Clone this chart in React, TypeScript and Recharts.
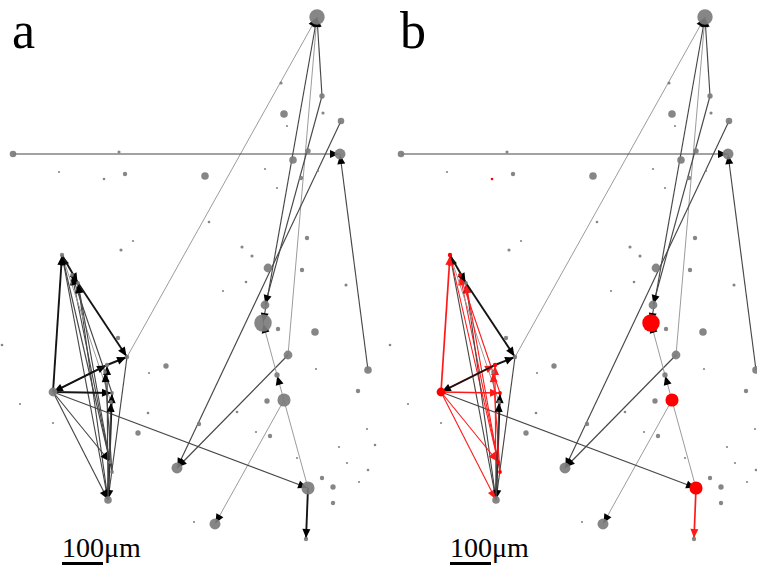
import React from "react";
import {
  ScatterChart,
  Scatter,
  XAxis,
  YAxis,
  ZAxis,
  ReferenceLine,
  Cell,
} from "recharts";

// node positions in the imaging field (px of the field), w = relative soma weight
const nodes = [
  { id: "n1", x: 317, y: 17, w: 49 },
  { id: "n2", x: 281, y: 83, w: 2 },
  { id: "n3", x: 322, y: 96, w: 6 },
  { id: "n4", x: 284, y: 114, w: 12 },
  { id: "n5", x: 323, y: 113, w: 2 },
  { id: "n6", x: 341, y: 121, w: 9 },
  { id: "n7", x: 13, y: 154, w: 9 },
  { id: "n8", x: 119, y: 152, w: 2 },
  { id: "n9", x: 340, y: 154, w: 25 },
  { id: "n10", x: 308, y: 151, w: 6 },
  { id: "n11", x: 293, y: 160, w: 12 },
  { id: "n12", x: 125, y: 174, w: 4 },
  { id: "n13", x: 104, y: 179, w: 1.5 },
  { id: "n14", x: 205, y: 176, w: 12 },
  { id: "n15", x: 59, y: 172, w: 1 },
  { id: "n16", x: 301, y: 178, w: 4 },
  { id: "n17", x: 287, y: 126, w: 1 },
  { id: "n18", x: 318, y: 171, w: 1 },
  { id: "n19", x: 265, y: 169, w: 1 },
  { id: "n20", x: 277, y: 188, w: 1 },
  { id: "n21", x: 209, y: 222, w: 1.5 },
  { id: "n22", x: 121, y: 250, w: 2 },
  { id: "n23", x: 133, y: 241, w: 1 },
  { id: "n24", x: 242, y: 247, w: 2 },
  { id: "n25", x: 252, y: 256, w: 2 },
  { id: "n26", x: 246, y: 282, w: 1.5 },
  { id: "n27", x: 223, y: 291, w: 1 },
  { id: "n28", x: 307, y: 238, w: 4 },
  { id: "n29", x: 302, y: 270, w: 4 },
  { id: "n30", x: 346, y: 285, w: 2 },
  { id: "n31", x: 268, y: 268, w: 16 },
  { id: "n32", x: 265, y: 305, w: 16 },
  { id: "n33", x: 263, y: 323, w: 64 },
  { id: "n34", x: 278, y: 329, w: 4 },
  { id: "n35", x: 315, y: 332, w: 12 },
  { id: "n36", x: 288, y: 355, w: 16 },
  { id: "n37", x: 368, y: 370, w: 12 },
  { id: "n38", x: 316, y: 369, w: 1 },
  { id: "n39", x: 277, y: 375, w: 6 },
  { id: "n40", x: 166, y: 366, w: 6 },
  { id: "n41", x: 118, y: 338, w: 4 },
  { id: "n42", x: 149, y: 373, w: 1 },
  { id: "n43", x: 284, y: 400, w: 36 },
  { id: "n44", x: 267, y: 401, w: 6 },
  { id: "n45", x: 358, y: 391, w: 4 },
  { id: "n46", x: 199, y: 424, w: 4 },
  { id: "n47", x: 237, y: 412, w: 1.5 },
  { id: "n48", x: 270, y: 436, w: 4 },
  { id: "n49", x: 256, y: 432, w: 1 },
  { id: "n50", x: 297, y: 458, w: 1 },
  { id: "n51", x: 177, y: 468, w: 25 },
  { id: "n52", x: 215, y: 524, w: 25 },
  { id: "n53", x: 308, y: 488, w: 36 },
  { id: "n54", x: 306, y: 539, w: 4 },
  { id: "n55", x: 322, y: 478, w: 4 },
  { id: "n56", x: 333, y: 487, w: 6 },
  { id: "n57", x: 333, y: 503, w: 4 },
  { id: "n58", x: 339, y: 447, w: 1 },
  { id: "n59", x: 347, y: 463, w: 1 },
  { id: "n60", x: 368, y: 470, w: 1.5 },
  { id: "n61", x: 359, y: 482, w: 1 },
  { id: "n62", x: 367, y: 429, w: 1 },
  { id: "n63", x: 375, y: 445, w: 1.5 },
  { id: "n64", x: 194, y: 522, w: 1 },
  { id: "n65", x: 20, y: 404, w: 1 },
  { id: "n66", x: 53, y: 423, w: 1 },
  { id: "n67", x: 148, y: 413, w: 1.5 },
  { id: "n68", x: 138, y: 433, w: 6 },
  { id: "n69", x: 2, y: 345, w: 1.5 },
  // tight cluster on the left
  { id: "T", x: 62, y: 255, w: 4 },
  { id: "c1", x: 72, y: 275, w: 3 },
  { id: "c2", x: 78, y: 283, w: 3 },
  { id: "R", x: 127, y: 357, w: 4 },
  { id: "M1", x: 107, y: 365, w: 4 },
  { id: "M2", x: 105, y: 372, w: 3 },
  { id: "L", x: 53, y: 392, w: 16 },
  { id: "M3", x: 112, y: 393, w: 3 },
  { id: "M4", x: 111, y: 402, w: 3 },
  { id: "c5", x: 110, y: 462, w: 3 },
  { id: "c6", x: 112, y: 472, w: 3 },
  { id: "B", x: 108, y: 500, w: 12 },
];

// directed connections: [from, to, strength 1..3]
const edges: [string, string, number][] = [
  ["R", "n1", 1],
  ["n3", "n1", 2],
  ["n1", "n33", 2],
  ["n36", "n1", 1],
  ["n3", "n32", 2],
  ["n6", "n51", 2],
  ["n36", "n51", 2],
  ["n7", "n9", 2],
  ["n37", "n9", 2],
  ["n39", "n33", 1],
  ["n53", "n39", 1],
  ["n43", "n52", 1],
  ["L", "n53", 2],
  ["n53", "n54", 3],
  ["B", "T", 2],
  ["c5", "T", 2],
  ["c6", "c1", 2],
  ["B", "c2", 2],
  ["M4", "T", 1],
  ["M3", "c1", 2],
  ["c5", "c2", 2],
  ["L", "T", 3],
  ["T", "c2", 3],
  ["c2", "R", 3],
  ["L", "M1", 3],
  ["M1", "L", 3],
  ["M1", "R", 3],
  ["L", "M3", 3],
  ["L", "B", 2],
  ["L", "c5", 2],
  ["R", "B", 2],
  ["B", "M1", 2],
  ["B", "M3", 3],
  ["c6", "M2", 2],
  ["B", "M4", 2],
];

// highlighted in panel b
const redNodes = ["n13", "n33", "n43", "n53", "T", "L", "c1", "M1", "M3", "c5", "c6"];
const redEdges = [
  "n53-n54",
  "c5-T",
  "c6-c1",
  "M3-c1",
  "c5-c2",
  "L-T",
  "L-M1",
  "L-M3",
  "L-B",
  "L-c5",
  "B-M1",
  "c6-M2",
];

const panels = ["a", "b"];

const W = 380;
const H = 566;
const SERIF = '"Liberation Serif", "Times New Roman", "DejaVu Serif", serif';
const byId = Object.fromEntries(nodes.map((n) => [n.id, n]));

const edgeStyle = (s: number, red: boolean) => {
  if (red) return { stroke: "#ff1a1a", width: s === 3 ? 1.7 : 1.1 };
  if (s === 1) return { stroke: "#9c9c9c", width: 1 };
  if (s === 2) return { stroke: "#474747", width: 1.15 };
  return { stroke: "#151515", width: 1.9 };
};

function arrowShape(color: string, width: number, head: string) {
  return (p: any) => {
    const { x1, y1, x2, y2 } = p;
    const dx = x2 - x1;
    const dy = y2 - y1;
    const len = Math.sqrt(dx * dx + dy * dy) || 1;
    const ux = dx / len;
    const uy = dy / len;
    const tx = x2 - ux * 1;
    const ty = y2 - uy * 1;
    const bx = tx - ux * 9;
    const by = ty - uy * 9;
    const hw = 4;
    const pts = `${tx},${ty} ${bx - uy * hw},${by + ux * hw} ${bx + uy * hw},${by - ux * hw}`;
    return (
      <g>
        <line x1={x1} y1={y1} x2={x2} y2={y2} stroke={color} strokeWidth={width} />
        <polygon points={pts} fill={head} />
      </g>
    );
  };
}

function Panel({ name }: { name: string }) {
  const hi = name === "b";
  return (
    <ScatterChart width={W} height={H} margin={{ top: 0, right: 0, bottom: 0, left: 0 }}>
      <XAxis type="number" dataKey="x" domain={[0, W]} hide />
      <YAxis type="number" dataKey="y" domain={[0, H]} reversed hide />
      <ZAxis type="number" dataKey="w" domain={[0, 64]} range={[0, 64 * Math.PI * 1.2]} />
      <Scatter data={nodes} isAnimationActive={false} shape="circle">
        {nodes.map((n) => (
          <Cell
            key={n.id}
            fill={hi && redNodes.includes(n.id) ? "#ff0000" : "#7c7c7c"}
            fillOpacity={hi && redNodes.includes(n.id) ? 1 : 0.92}
          />
        ))}
      </Scatter>
      {edges.map(([f, t, s]) => {
        const red = hi && redEdges.includes(`${f}-${t}`);
        const st = edgeStyle(s, red);
        const a = byId[f];
        const b = byId[t];
        return (
          <ReferenceLine
            key={`${f}-${t}`}
            segment={[
              { x: a.x, y: a.y },
              { x: b.x, y: b.y },
            ]}
            ifOverflow="visible"
            stroke={st.stroke}
            shape={arrowShape(st.stroke, st.width, red ? "#ff1a1a" : "#000")}
          />
        );
      })}
    </ScatterChart>
  );
}

export default function App() {
  return (
    <div
      style={{
        position: "absolute",
        left: 0,
        top: 0,
        width: 757,
        height: 566,
        overflow: "hidden",
        background: "#fff",
      }}
    >
      {panels.map((p, i) => (
        <div key={p} style={{ position: "absolute", left: i * 388, top: 0 }}>
          <Panel name={p} />
        </div>
      ))}
      <svg
        width={757}
        height={566}
        style={{ position: "absolute", left: 0, top: 0, pointerEvents: "none" }}
      >
        {panels.map((p, i) => (
          <g key={p} transform={`translate(${i * 388},0)`}>
            <text x={12} y={48} style={{ fontFamily: SERIF, fontSize: 52 }} fill="#000">
              {p}
            </text>
            <text x={62} y={557} style={{ fontFamily: SERIF, fontSize: 28 }} fill="#000">
              100μm
            </text>
            <rect x={62} y={562} width={41} height={3} fill="#000" />
          </g>
        ))}
      </svg>
    </div>
  );
}
